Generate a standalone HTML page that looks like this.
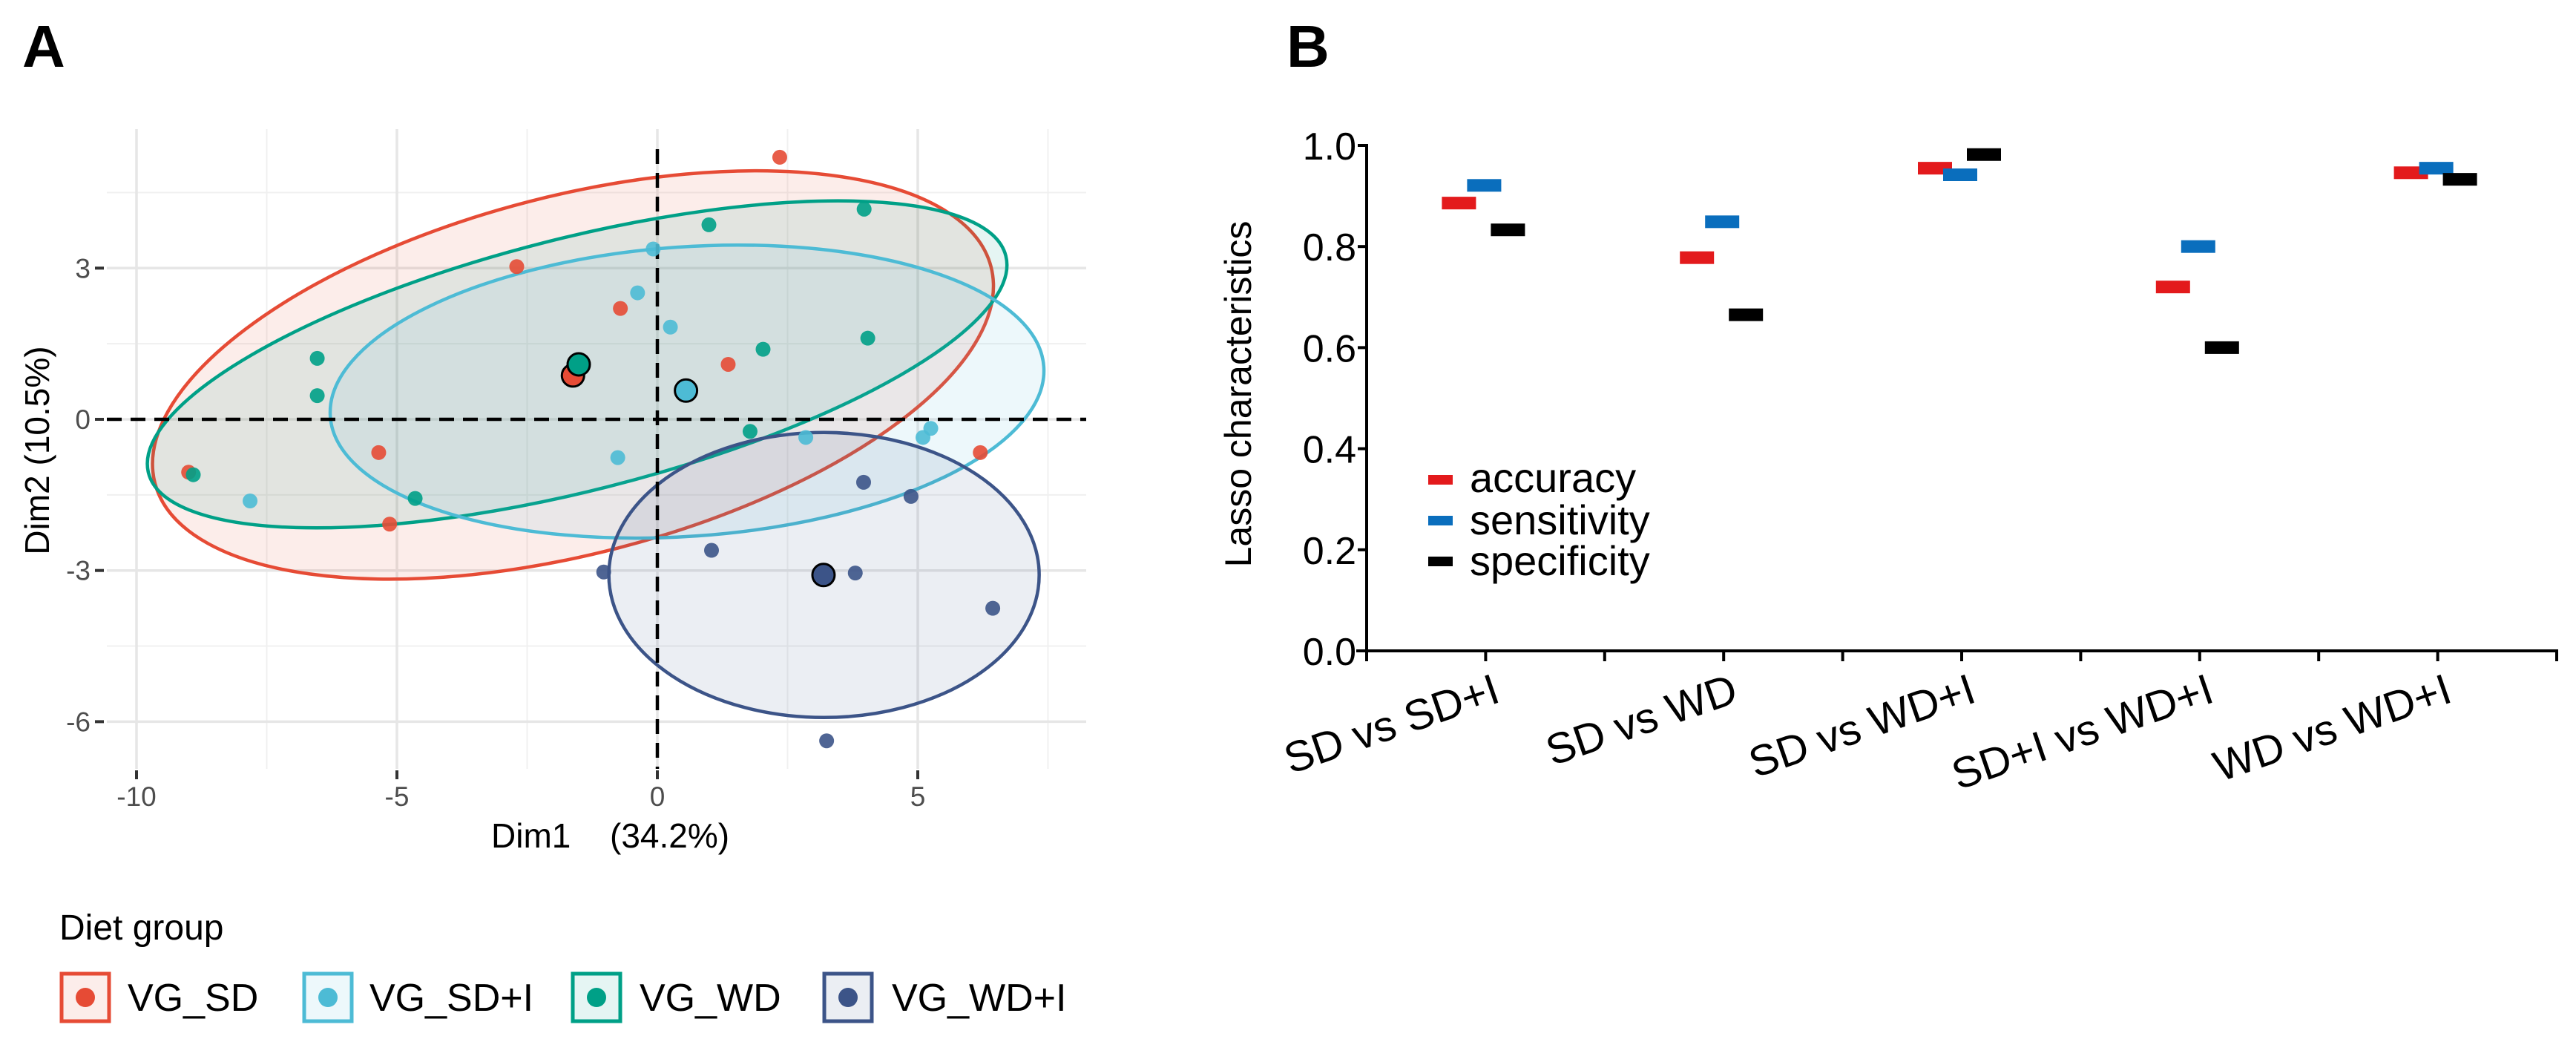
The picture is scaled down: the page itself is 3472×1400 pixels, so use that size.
<!DOCTYPE html>
<html><head><meta charset="utf-8"><style>
html,body{margin:0;padding:0;background:#fff;width:3472px;height:1400px;overflow:hidden}
svg{display:block;font-family:"Liberation Sans",Arial,sans-serif}
</style></head><body>
<svg id="fig" width="3472" height="1400" viewBox="0 0 3472 1400" xmlns="http://www.w3.org/2000/svg">
<g id="pA"></g>
<g id="pB"></g>
</svg>
<script>
// ---------- Panel A data ----------
const groupNames = ["VG_SD","VG_SD+I","VG_WD","VG_WD+I"];
const groupColors = ["#E64B35","#4DBBD5","#00A087","#3C5488"];
const sdX = [2.35,-2.7,-0.71,1.36,-5.35,-9.0,-5.14,6.2];
const sdY = [5.2,3.03,2.2,1.09,-0.66,-1.05,-2.08,-0.66];
const sdiX = [-0.08,-0.38,0.25,-0.76,-7.82,2.85,5.1,5.25];
const sdiY = [3.38,2.51,1.83,-0.76,-1.62,-0.36,-0.36,-0.18];
const wdX = [0.99,3.97,2.03,4.04,-6.53,-6.53,-8.91,-4.65,1.78];
const wdY = [3.86,4.17,1.39,1.61,1.21,0.47,-1.1,-1.57,-0.24];
const wdiX = [3.96,4.87,1.04,-1.03,3.8,6.44,3.25];
const wdiY = [-1.25,-1.53,-2.6,-3.03,-3.05,-3.75,-6.38];
const centroidX = [-1.62,0.55,-1.51,3.19];
const centroidY = [0.87,0.57,1.09,-3.09];
const ellipseCX = [-1.62,0.57,-1.54,3.20];
const ellipseCY = [0.88,0.55,1.09,-3.09];
const xTicksA = [-10,-5,0,5];
const yTicksA = [3,0,-3,-6];

// ---------- Panel B data ----------
const comparisons = ["SD vs SD+I","SD vs WD","SD vs WD+I","SD+I vs WD+I","WD vs WD+I"];
const accuracy = [0.886,0.778,0.955,0.72,0.946];
const sensitivity = [0.921,0.849,0.942,0.80,0.955];
const specificity = [0.833,0.665,0.982,0.60,0.933];
const yTicksB = [0.0,0.2,0.4,0.6,0.8,1.0];
const yTickLabelsB = ["0.0","0.2","0.4","0.6","0.8","1.0"];

const NS="http://www.w3.org/2000/svg";
function mk(parent,tag,attrs,text){const e=document.createElementNS(NS,tag);for(const k in attrs)e.setAttribute(k,attrs[k]);if(text!==undefined)e.textContent=text;parent.appendChild(e);return e;}

// ---- Panel A ----
const A=document.getElementById('pA');
const xA=v=>886+70.2*v, yA=v=>565-67.9*v;
let t=mk(A,'text',{x:30,y:90,'font-size':80,'font-weight':'bold'},'A');


[-7.5,-2.5,2.5,7.5].forEach(v=>{const l=mk(A,'line',{x1:xA(v),x2:xA(v),y1:174,y2:1036,stroke:'#f0f0f0','stroke-width':2});});
[4.5,1.5,-1.5,-4.5].forEach(v=>{const l=mk(A,'line',{x1:144,x2:1464,y1:yA(v),y2:yA(v),stroke:'#f0f0f0','stroke-width':2});});
xTicksA.forEach(v=>{const l=mk(A,'line',{x1:xA(v),x2:xA(v),y1:174,y2:1036,stroke:'#e6e6e6','stroke-width':3.5});
 const tk=mk(A,'line',{x1:xA(v),x2:xA(v),y1:1038,y2:1050,stroke:'#333','stroke-width':4});
 const tl=mk(A,'text',{x:xA(v),y:1086,'font-size':37,'text-anchor':'middle',fill:'#4d4d4d'},String(v));});
yTicksA.forEach(v=>{const l=mk(A,'line',{x1:144,x2:1464,y1:yA(v),y2:yA(v),stroke:'#e6e6e6','stroke-width':3.5});
 const tk=mk(A,'line',{x1:128,x2:140,y1:yA(v),y2:yA(v),stroke:'#333','stroke-width':4});
 const tl=mk(A,'text',{x:122,y:yA(v)+13,'font-size':37,'text-anchor':'end',fill:'#4d4d4d'},String(v));});
const ellRX=[582,482,596,290], ellRY=[241,195,170,192], ellAng=[-14.5,-4,-14.2,0];
const drawOrder=[0,2,1,3];
drawOrder.forEach(i=>{const e=mk(A,'ellipse',{cx:xA(ellipseCX[i]),cy:yA(ellipseCY[i]),rx:ellRX[i],ry:ellRY[i],transform:`rotate(${ellAng[i]} ${xA(ellipseCX[i])} ${yA(ellipseCY[i])})`,fill:groupColors[i],'fill-opacity':0.1,stroke:groupColors[i],'stroke-width':4.5});
 
 });
let d=mk(A,'line',{x1:xA(0),x2:xA(0),y1:201,y2:1036,stroke:'#000','stroke-width':4.5,'stroke-dasharray':'20 12'});

d=mk(A,'line',{x1:144,x2:1464,y1:yA(0),y2:yA(0),stroke:'#000','stroke-width':4.5,'stroke-dasharray':'20 12'});

const allX=[sdX,sdiX,wdX,wdiX], allY=[sdY,sdiY,wdY,wdiY];
allX.forEach((xs,g)=>{xs.forEach((xv,k)=>{const c=mk(A,'circle',{cx:xA(xv),cy:yA(allY[g][k]),r:10,fill:groupColors[g],'fill-opacity':0.9});
 });});
[0,2,1,3].forEach(g=>{const c=mk(A,'circle',{cx:xA(centroidX[g]),cy:yA(centroidY[g]),r:15,fill:groupColors[g],stroke:'#000','stroke-width':3});
 });
t=mk(A,'text',{x:662,y:1142,'font-size':46,fill:'#000'},'Dim1');
t=mk(A,'text',{x:822,y:1142,'font-size':46,fill:'#000'},'(34.2%)');
t=mk(A,'text',{x:0,y:0,'font-size':46,'text-anchor':'middle',transform:'translate(66,607) rotate(-90)'},'Dim2 (10.5%)');
t=mk(A,'text',{x:80,y:1266,'font-size':48},'Diet group');
const keyX=[83,410,772,1111], txtX=[172,498,862,1202];
groupNames.forEach((n,g)=>{const r=mk(A,'rect',{x:keyX[g],y:1312,width:64,height:64,fill:groupColors[g],'fill-opacity':0.1,stroke:groupColors[g],'stroke-width':5});
 
 const c=mk(A,'circle',{cx:keyX[g]+32,cy:1344,r:13,fill:groupColors[g]});
 const tx=mk(A,'text',{x:txtX[g],y:1362,'font-size':52},n);});

// ---- Panel B ----
const B=document.getElementById('pB');
const x0=1842,cw=320.8,yB=v=>877-681*v;
const xB=i=>x0+cw*(i+0.5);
t=mk(B,'text',{x:1734,y:90,'font-size':80,'font-weight':'bold'},'B');
let ax=mk(B,'line',{x1:x0,x2:x0,y1:yB(1)-2,y2:yB(0)+14,stroke:'#000','stroke-width':4});
ax=mk(B,'line',{x1:x0-14,x2:x0+cw*5+2,y1:yB(0),y2:yB(0),stroke:'#000','stroke-width':4});
yTicksB.forEach((v,i)=>{const tk=mk(B,'line',{x1:x0-12,x2:x0,y1:yB(v),y2:yB(v),stroke:'#000','stroke-width':4});
 const tl=mk(B,'text',{x:1828,y:yB(v)+19,'font-size':52,'text-anchor':'end'},yTickLabelsB[i]);});
for(let i=0;i<=5;i++){const tk=mk(B,'line',{x1:x0+cw*i,x2:x0+cw*i,y1:yB(0),y2:yB(0)+14,stroke:'#000','stroke-width':4});}
comparisons.forEach((c,i)=>{const tk=mk(B,'line',{x1:xB(i),x2:xB(i),y1:yB(0),y2:yB(0)+14,stroke:'#000','stroke-width':4});
 const tl=mk(B,'text',{x:0,y:0,'font-size':58,'text-anchor':'end',transform:`translate(${xB(i)+22},${945}) rotate(-19)`},c);});
t=mk(B,'text',{x:0,y:0,'font-size':50,'text-anchor':'middle',transform:'translate(1686,531) rotate(-90)'},'Lasso characteristics');
const metricColors=["#E31A1C","#0A6EBD","#000000"], metricOff=[-36,-2,30], metricNames=["accuracy","sensitivity","specificity"];
[accuracy,sensitivity,specificity].forEach((arr,m)=>{arr.forEach((v,i)=>{const r=mk(B,'rect',{x:xB(i)+metricOff[m]-23,y:yB(v)-8.5,width:46,height:17,fill:metricColors[m]});
 });});
const legKeyY=[640,695,750], legTxtY=[663,720,775];
metricNames.forEach((n,m)=>{const r=mk(B,'rect',{x:1925,y:legKeyY[m],width:33,height:13,fill:metricColors[m]});
 const tx=mk(B,'text',{x:1981,y:legTxtY[m],'font-size':56},n);});
</script>
</body></html>
